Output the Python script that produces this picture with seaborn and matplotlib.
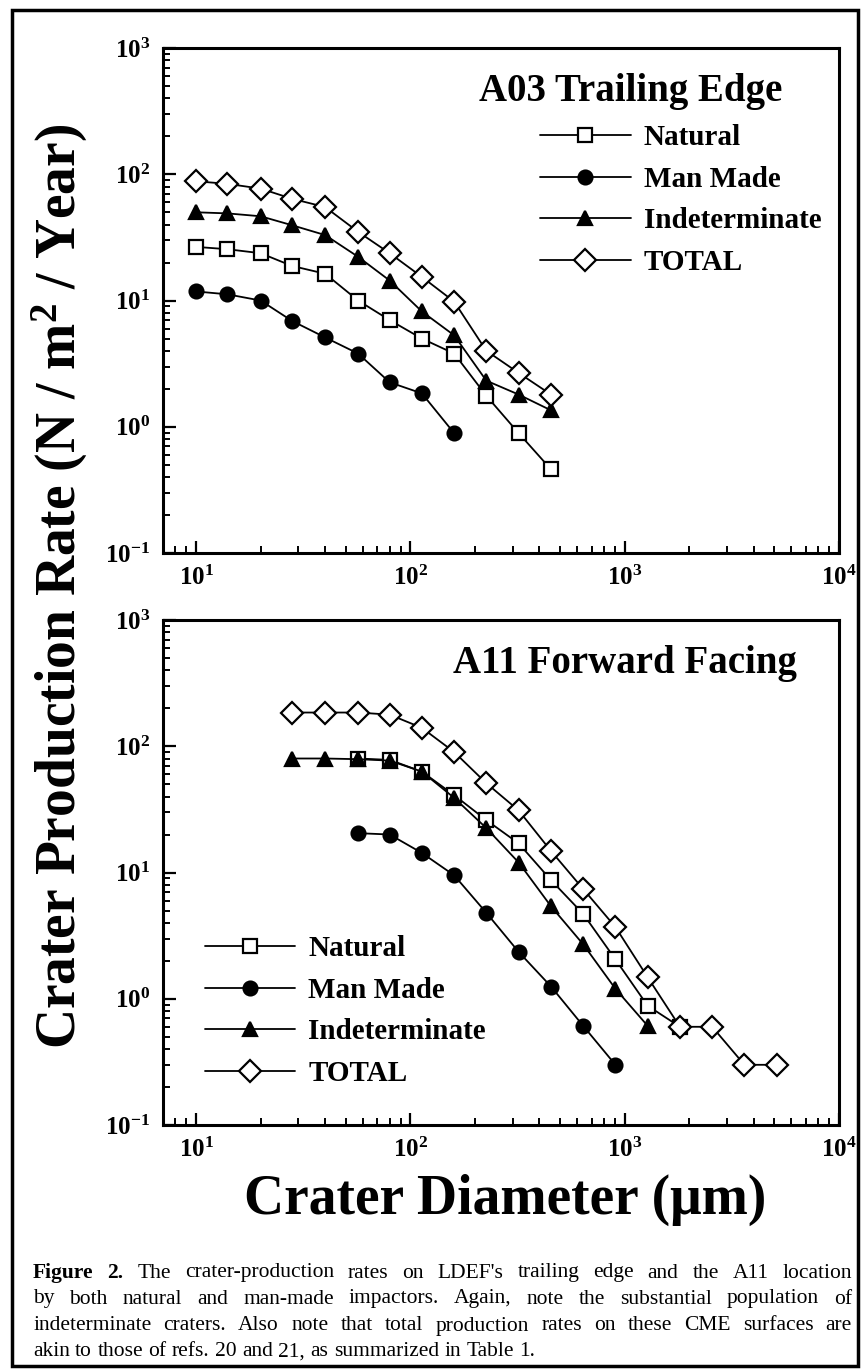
import math
import matplotlib
matplotlib.use("Agg")
import matplotlib.pyplot as plt
import seaborn as sns
from matplotlib.ticker import LogLocator, FuncFormatter, NullFormatter
from matplotlib.patches import Rectangle

# ---- A03 trailing edge (top panel) ----
a03_diam = [10, 14, 20, 28, 40, 57, 80, 113, 160, 226, 320, 453]
a03_natural = [26.6, 25.5, 23.7, 18.8, 16.3, 10.0, 7.0, 5.0, 3.8, 1.76, 0.89, 0.46]
a03_manmade = [11.8, 11.2, 10.0, 6.9, 5.1, 3.8, 2.25, 1.84, 0.89]
a03_indet = [50, 49, 46.5, 39.5, 33, 22.2, 14.4, 8.2, 5.3, 2.32, 1.8, 1.35]
a03_total = [88, 84, 77, 64, 55, 35, 23.7, 15.4, 9.8, 4.0, 2.67, 1.8]

# ---- A11 forward facing (bottom panel) ----
a11_diam = [28, 40, 57, 80, 113, 160, 226, 320, 453, 640, 905, 1280, 1810, 2560, 3620, 5120]
a11_natural = [80, 78, 63, 41, 26, 17, 8.7, 4.7, 2.05, 0.88, 0.6]
a11_manmade = [20.5, 20, 14.3, 9.5, 4.8, 2.35, 1.25, 0.61, 0.3]
a11_indet = [80, 80, 79, 77, 63, 39, 22.5, 12, 5.4, 2.7, 1.2, 0.61]
a11_total = [185, 185, 185, 178, 140, 90, 51, 31, 14.8, 7.4, 3.7, 1.48, 0.6, 0.6, 0.3, 0.3]

labels = ["Natural", "Man Made", "Indeterminate", "TOTAL"]
x_ticks = [1e1, 1e2, 1e3, 1e4]
y_ticks = [1e-1, 1e0, 1e1, 1e2, 1e3]

sns.set_style("ticks")
plt.rcParams["font.family"] = ["Liberation Serif", "DejaVu Serif"]
plt.rcParams["font.weight"] = "bold"
plt.rcParams["mathtext.fontset"] = "custom"
plt.rcParams["mathtext.bf"] = "Liberation Serif:bold"
plt.rcParams["mathtext.rm"] = "Liberation Serif:bold"
plt.rcParams["mathtext.default"] = "bf"
for k in ["text.color", "axes.labelcolor", "xtick.color", "ytick.color", "axes.edgecolor"]:
    plt.rcParams[k] = "black"

fig = plt.figure(figsize=(8.66, 13.72), dpi=100)
ax_top = fig.add_axes([0.1882, 0.5969, 0.7806, 0.3681])
ax_bot = fig.add_axes([0.1882, 0.1800, 0.7806, 0.3681])

styles = [("s", "white", 10), ("o", "black", 10), ("^", "black", 10), ("D", "white", 11)]


def draw_series(ax, xs, ys_list):
    for lab, x, y, (mk, fc, ms) in zip(labels, xs, ys_list, styles):
        sns.lineplot(x=x, y=y, ax=ax, color="black", linewidth=1.3,
                     marker=mk, markersize=ms, markerfacecolor=fc,
                     markeredgecolor="black", markeredgewidth=1.6,
                     label=lab, sort=False, estimator=None)


def style_axes(ax):
    ax.set_xscale("log")
    ax.set_yscale("log")
    ax.set_xlim(7, 1e4)
    ax.set_ylim(0.1, 1000)
    ax.set_xticks(x_ticks)
    ax.set_yticks(y_ticks)
    fmt = FuncFormatter(lambda v, p: r"$\mathbf{10^{%d}}$" % round(math.log10(v)))
    ax.xaxis.set_major_formatter(fmt)
    ax.yaxis.set_major_formatter(fmt)
    ax.xaxis.set_minor_locator(LogLocator(base=10, subs=range(2, 10)))
    ax.yaxis.set_minor_locator(LogLocator(base=10, subs=range(2, 10)))
    ax.xaxis.set_minor_formatter(NullFormatter())
    ax.yaxis.set_minor_formatter(NullFormatter())
    ax.tick_params(which="major", direction="in", length=9, width=1.6,
                   labelsize=18, pad=9, top=False, right=False, colors="black")
    ax.tick_params(which="minor", direction="in", length=5, width=1.4,
                   top=False, right=False, colors="black")
    for s in ax.spines.values():
        s.set_linewidth(2.2)
        s.set_color("black")
    ax.set_xlabel("")
    ax.set_ylabel("")


draw_series(ax_top,
            [a03_diam, a03_diam[:9], a03_diam, a03_diam],
            [a03_natural, a03_manmade, a03_indet, a03_total])
draw_series(ax_bot,
            [a11_diam[2:13], a11_diam[2:11], a11_diam[0:12], a11_diam],
            [a11_natural, a11_manmade, a11_indet, a11_total])

for ax in (ax_top, ax_bot):
    style_axes(ax)

leg_kw = dict(frameon=False, fontsize=21, handlelength=3.1, handletextpad=0.45,
              labelspacing=0.5, borderpad=0, borderaxespad=0, loc="upper left")
h, l = ax_top.get_legend_handles_labels()
ax_top.legend(h, l, bbox_to_anchor=(0.558, 0.849), **leg_kw)
h, l = ax_bot.get_legend_handles_labels()
ax_bot.legend(h, l, bbox_to_anchor=(0.062, 0.376), **leg_kw)

ax_top.text(0.916, 0.913, "A03 Trailing Edge", transform=ax_top.transAxes,
            ha="right", va="center", fontsize=28, fontweight="bold")
ax_bot.text(0.938, 0.913, "A11 Forward Facing", transform=ax_bot.transAxes,
            ha="right", va="center", fontsize=28, fontweight="bold")

fig.text(60 / 866, 1 - 586 / 1372, r"Crater Production Rate (N / m$^{2}$ / Year)",
         rotation=90, ha="center", va="center", fontsize=40, fontweight="bold")
fig.text(505 / 866, 1 - 1200 / 1372, "Crater Diameter (\u03bcm)",
         ha="center", va="center", fontsize=40, fontweight="bold")

# outer frame of the figure
fig.add_artist(Rectangle((12 / 866, 1 - 1366 / 1372), 846 / 866, 1356 / 1372,
                         transform=fig.transFigure, fill=False, lw=2.5, ec="black"))

# caption, justified line by line
caption = [
    [("Figure", "bold"), ("2.", "bold"), ("The", "normal"), ("crater-production", "normal"),
     ("rates", "normal"), ("on", "normal"), ("LDEF's", "normal"), ("trailing", "normal"),
     ("edge", "normal"), ("and", "normal"), ("the", "normal"), ("A11", "normal"),
     ("location", "normal")],
    [(w, "normal") for w in "by both natural and man-made impactors. Again, note the substantial population of".split()],
    [(w, "normal") for w in "indeterminate craters. Also note that total production rates on these CME surfaces are".split()],
    [(w, "normal") for w in "akin to those of refs. 20 and 21, as summarized in Table 1.".split()],
]
cap_left, cap_right = 33, 852
cap_y = [1273, 1299, 1326, 1352]
renderer = fig.canvas.get_renderer()
for i, (words, yy) in enumerate(zip(caption, cap_y)):
    arts = [fig.text(0, 1 - yy / 1372, w, fontsize=15.5, fontweight=wt, va="center",
                     family="Liberation Serif") for w, wt in words]
    widths = [a.get_window_extent(renderer).width for a in arts]
    if i < len(caption) - 1:
        gap = (cap_right - cap_left - sum(widths)) / (len(words) - 1)
    else:
        gap = 15.5 * 100 / 72 * 0.25
    x = cap_left
    for a, w in zip(arts, widths):
        a.set_x(x / 866)
        x += w + gap

fig.savefig("out.png", dpi=100)
